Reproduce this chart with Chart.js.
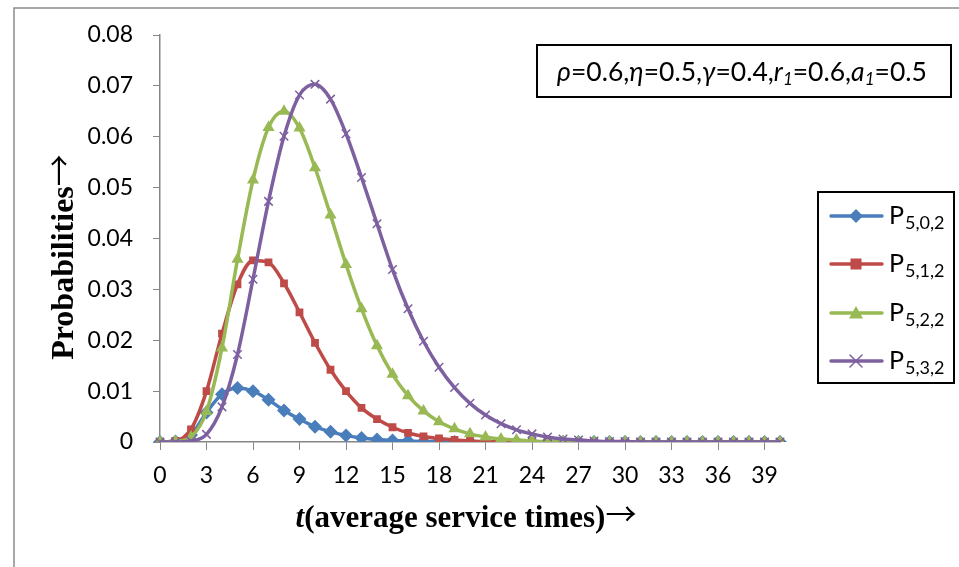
<!DOCTYPE html>
<html>
<head>
<meta charset="utf-8">
<script src="https://cdn.jsdelivr.net/npm/chart.js@4.4.1/dist/chart.umd.min.js"></script>
<style>
  body { margin: 0; background: #fff; }
  #wrap { width: 959px; height: 567px; }
</style>
</head>
<body>
<div id="wrap"><canvas id="mychart" width="959" height="567"></canvas></div>
<script>
// t values (average service times)
const times = ['0','1','2','3','4','5','6','7','8','9','10','11','12','13','14','15','16','17','18','19','20',
    '21','22','23','24','25','26','27','28','29','30','31','32','33','34','35','36','37','38','39','40'];

const p502 = [0, 0.0001, 0.0014, 0.0058, 0.0094, 0.0106, 0.0100, 0.0083, 0.0062, 0.0045, 0.0030, 0.0020, 0.0013,
    0.0008, 0.0005, 0.0003, 0.0002, 0.0001, 0.0001, 0, 0, 0, 0, 0, 0, 0, 0, 0, 0, 0, 0, 0, 0, 0, 0, 0, 0, 0, 0, 0, 0];
const p512 = [0, 0.0002, 0.0025, 0.0100, 0.0213, 0.0310, 0.0357, 0.0353, 0.0312, 0.0255, 0.0195, 0.0142, 0.0100,
    0.0067, 0.0045, 0.0029, 0.0018, 0.0011, 0.0007, 0.0004, 0.0002, 0.0001, 0.0001, 0, 0, 0, 0, 0, 0, 0, 0, 0, 0, 0, 0, 0, 0, 0, 0, 0, 0];
const p522 = [0, 0.0001, 0.0010, 0.0060, 0.0185, 0.0359, 0.0515, 0.0618, 0.0650, 0.0617, 0.0539, 0.0446, 0.0349,
    0.0262, 0.0189, 0.0133, 0.0091, 0.0061, 0.0040, 0.0026, 0.0016, 0.0010, 0.0006, 0.0004, 0.0002, 0.0001, 0.0001,
    0, 0, 0, 0, 0, 0, 0, 0, 0, 0, 0, 0, 0, 0];
const p532 = [0, 0, 0.0002, 0.0015, 0.0069, 0.0172, 0.0320, 0.0473, 0.0601, 0.0682, 0.0703, 0.0674, 0.0606,
    0.0520, 0.0429, 0.0339, 0.0262, 0.0198, 0.0147, 0.0107, 0.0076, 0.0053, 0.0036, 0.0024, 0.0016, 0.0010, 0.0006,
    0.0004, 0.0002, 0.0001, 0.0001, 0, 0, 0, 0, 0, 0, 0, 0, 0, 0];

const seriesSubs = ['5,0,2', '5,1,2', '5,2,2', '5,3,2'];
const colors = ['#4a7ebb', '#be4b48', '#98b954', '#7d60a0'];
const markers = ['rectRot', 'rect', 'triangle', 'crossRot'];
const markerSizes = [7, 5.5, 7, 6];

const axisGray = '#868686';
const arrowFont = '"Noto Sans CJK JP"';

// little marker painter for the hand drawn legend
function drawMarker(ctx, kind, x, y, r, color) {
    ctx.save();
    ctx.fillStyle = color;
    ctx.strokeStyle = color;
    ctx.lineWidth = 1.5;
    ctx.beginPath();
    if (kind === 'rectRot') {
        ctx.moveTo(x, y - r); ctx.lineTo(x + r, y); ctx.lineTo(x, y + r); ctx.lineTo(x - r, y);
        ctx.closePath(); ctx.fill();
    } else if (kind === 'rect') {
        ctx.rect(x - r, y - r, 2 * r, 2 * r); ctx.fill();
    } else if (kind === 'triangle') {
        ctx.moveTo(x, y - r); ctx.lineTo(x + r, y + r * 0.8); ctx.lineTo(x - r, y + r * 0.8);
        ctx.closePath(); ctx.fill();
    } else {
        ctx.moveTo(x - r, y - r); ctx.lineTo(x + r, y + r);
        ctx.moveTo(x + r, y - r); ctx.lineTo(x - r, y + r);
        ctx.stroke();
    }
    ctx.restore();
}

const extras = {
    id: 'extras',
    beforeDraw(chart) {
        const ctx = chart.ctx;
        ctx.save();
        ctx.fillStyle = '#fff';
        ctx.fillRect(0, 0, chart.width, chart.height);
        // outer chart frame
        ctx.strokeStyle = '#8c8c8c';
        ctx.lineWidth = 1.5;
        ctx.strokeRect(14, 8, 1000, 700);
        ctx.restore();
    },
    afterDraw(chart) {
        const ctx = chart.ctx;
        ctx.save();

        // parameter box
        ctx.strokeStyle = '#000';
        ctx.lineWidth = 2;
        ctx.strokeRect(537, 45, 414, 52);
        const parts = [
            ['\u03c1', true, false], ['=0.6,', false, false], ['\u03b7', true, false], ['=0.5,', false, false],
            ['\u03b3', true, false], ['=0.4,', false, false], ['r', true, false], ['1', true, true],
            ['=0.6,', false, false], ['a', true, false], ['1', true, true], ['=0.5', false, false]
        ];
        const fontFor = p => (p[1] ? 'italic ' : '') + (p[2] ? '17px' : '26.5px') + ' Lato';
        let total = 0;
        parts.forEach(p => { ctx.font = fontFor(p); total += ctx.measureText(p[0]).width; });
        let x = 742 - total / 2;
        ctx.fillStyle = '#000';
        ctx.textBaseline = 'alphabetic';
        parts.forEach(p => {
            ctx.font = fontFor(p);
            ctx.fillText(p[0], x, p[2] ? 85 : 81);
            x += ctx.measureText(p[0]).width;
        });

        // legend
        ctx.strokeStyle = '#000';
        ctx.lineWidth = 2;
        ctx.strokeRect(818, 192, 136, 191);
        const legendY = [216, 264, 313, 361];
        for (let i = 0; i < 4; i++) {
            const y = legendY[i];
            ctx.strokeStyle = colors[i];
            ctx.lineWidth = 3.5;
            ctx.lineCap = 'round';
            ctx.beginPath();
            ctx.moveTo(831, y); ctx.lineTo(882, y);
            ctx.stroke();
            drawMarker(ctx, markers[i], 856, y, markerSizes[i], colors[i]);
            ctx.fillStyle = '#000';
            ctx.font = '25px Lato';
            ctx.fillText('P', 889, y + 8);
            const pw = ctx.measureText('P').width;
            ctx.font = '18px Lato';
            ctx.fillText(seriesSubs[i], 889 + pw + 1, y + 13);
        }

        // axis titles
        ctx.fillStyle = '#000';
        ctx.save();
        ctx.translate(73, 257);
        ctx.rotate(-Math.PI / 2);
        ctx.font = 'bold 32px "Liberation Serif"';
        const yt = 'Probabilities';
        const ytw = ctx.measureText(yt).width;
        ctx.font = '32px ' + arrowFont;
        const yaw = ctx.measureText('\u2192').width;
        const ys = -(ytw + yaw) / 2;
        ctx.font = 'bold 32px "Liberation Serif"';
        ctx.fillText(yt, ys, 0);
        ctx.font = '32px ' + arrowFont;
        ctx.fillText('\u2192', ys + ytw, -2);
        ctx.restore();

        ctx.font = '31px ' + arrowFont;
        const aw = ctx.measureText('\u2192').width;
        ctx.font = 'italic bold 31px "Liberation Serif"';
        const tw = ctx.measureText('t').width;
        ctx.font = 'bold 31px "Liberation Serif"';
        const rest = '(average service times)';
        const rw = ctx.measureText(rest).width;
        const sx = 466 - (tw + rw + aw) / 2;
        ctx.font = 'italic bold 31px "Liberation Serif"';
        ctx.fillText('t', sx, 527);
        ctx.font = 'bold 31px "Liberation Serif"';
        ctx.fillText(rest, sx + tw, 527);
        ctx.font = '31px ' + arrowFont;
        ctx.fillText('\u2192', sx + tw + rw, 525);

        ctx.restore();
    }
};

function makeSet(i, data) {
    return {
        label: 'P' + seriesSubs[i],
        data: data,
        borderColor: colors[i],
        backgroundColor: colors[i],
        borderWidth: 3.5,
        pointStyle: markers[i],
        pointRadius: markerSizes[i],
        pointBorderWidth: markers[i] === 'crossRot' ? 1.5 : 0,
        pointBorderColor: colors[i],
        cubicInterpolationMode: 'monotone',
        order: 3 - i
    };
}

const chart = document.getElementById('mychart').getContext('2d');
new Chart(chart, {
    type: 'line',
    data: {
        labels: times,
        datasets: [makeSet(0, p502), makeSet(1, p512), makeSet(2, p522), makeSet(3, p532)]
    },
    options: {
        responsive: false,
        animation: false,
        layout: { padding: { left: 60, right: 179, top: 35, bottom: 0 } },
        plugins: { legend: { display: false }, tooltip: { enabled: false } },
        scales: {
            x: {
                type: 'category',
                afterFit: s => { s.height = 125; },
                border: { color: axisGray, width: 1.5 },
                grid: {
                    drawOnChartArea: false,
                    tickLength: 8,
                    tickColor: c => (c.index % 3 === 0 ? axisGray : 'rgba(0,0,0,0)')
                },
                ticks: {
                    autoSkip: false,
                    maxRotation: 0,
                    padding: 12,
                    color: '#000',
                    font: { family: 'Lato', size: 23 },
                    callback: (v, i) => (i % 3 === 0 ? times[i] : '')
                }
            },
            y: {
                min: 0,
                max: 0.08,
                afterFit: s => { s.width = 100; },
                border: { color: axisGray, width: 1.5 },
                grid: { drawOnChartArea: false, tickLength: 7, tickColor: axisGray },
                ticks: {
                    stepSize: 0.01,
                    padding: 20,
                    color: '#000',
                    font: { family: 'Lato', size: 23 },
                    callback: v => (v === 0 ? '0' : v.toFixed(2))
                }
            }
        }
    },
    plugins: [extras]
});
</script>
</body>
</html>
